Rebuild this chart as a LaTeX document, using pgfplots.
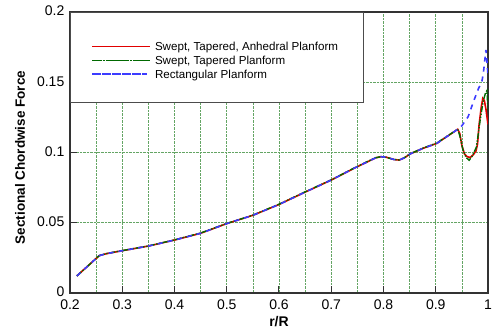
\documentclass[border=0pt]{standalone}
\usepackage{fontspec}
\setmainfont{Liberation Sans}
\usepackage{pgfplots}
\pgfplotsset{compat=1.18}
\definecolor{gridgreen}{RGB}{100,165,100}
\definecolor{myred}{RGB}{225,0,0}
\definecolor{mygreen}{RGB}{0,105,0}
\definecolor{myblue}{RGB}{60,60,255}
\begin{document}
\begin{tikzpicture}
\useasboundingbox (-70bp,-39bp) rectangle (424bp,293bp);
\begin{axis}[
  at={(0,0)}, anchor=south west,
  scale only axis, width=418bp, height=281bp,
  xmin=0.2, xmax=1, ymin=0, ymax=0.2,
  scaled ticks=false,
  xtick={0.2,0.3,0.4,0.5,0.6,0.7,0.8,0.9,1},
  xticklabels={0.2,0.3,0.4,0.5,0.6,0.7,0.8,0.9,1},
  minor xtick={0.25,0.35,0.45,0.55,0.65,0.75,0.85,0.95},
  ytick={0,0.05,0.1,0.15,0.2},
  yticklabels={0,0.05,0.1,0.15,0.2},
  grid=both,
  major grid style={gridgreen, densely dotted, line width=0.6bp},
  minor grid style={gridgreen, densely dotted, line width=0.6bp},
  minor tick length=0pt,
  tick align=inside, major tick length=7bp,
  xtick pos=bottom, ytick pos=left,
  tick style={black!80, line width=1bp},
  axis line style={black!80, line width=1.3bp},
  ticklabel style={font=\fontsize{14bp}{16bp}\selectfont},
  xticklabel style={anchor=base, inner sep=0pt, yshift=-16bp},
  yticklabel style={anchor=east, inner sep=0pt, xshift=-5.5bp, yshift=1bp},
  xlabel={r/R},
  ylabel={Sectional Chordwise Force},
  xlabel style={font=\bfseries\fontsize{14bp}{16bp}\selectfont, at={(axis description cs:0.5,0)}, anchor=base, yshift=-33bp},
  ylabel style={font=\bfseries\fontsize{13.5bp}{16bp}\selectfont, at={(axis description cs:-0.1077,0.482)}, anchor=base},
  legend cell align=left,
  legend style={at={(0,1)}, anchor=north west, draw=black!70, line width=0.8bp, fill=white,
    inner xsep=21bp, inner ysep=24.4bp,
    font=\fontsize{11.6bp}{13bp}\selectfont,
    nodes={inner xsep=4bp, inner ysep=0bp, text height=13.75bp, text depth=0bp}},
  legend image code/.code={\path (0bp,-2.8bp) -- (58bp,-2.8bp); \draw[#1] (4bp,-2.8bp) -- (54bp,-2.8bp);},
]
\addplot[myred, line width=1.6bp] coordinates {
(0.213,0.0121) (0.256,0.0266) (0.27,0.0280) (0.30,0.0301) (0.35,0.0334)
(0.40,0.0377) (0.45,0.0425) (0.50,0.0494) (0.55,0.0553) (0.60,0.0630)
(0.65,0.0718) (0.70,0.0804) (0.745,0.0890) (0.77,0.0935) (0.785,0.0962)
(0.795,0.0970) (0.806,0.0966) (0.82,0.0950) (0.830,0.0946) (0.84,0.0962)
(0.851,0.0990) (0.876,0.1030) (0.902,0.1065) (0.92,0.1110) (0.942,0.1165)
(0.946,0.1135) (0.950,0.1050) (0.955,0.0990) (0.960,0.0970) (0.966,0.0965)
(0.972,0.0985) (0.977,0.1010) (0.980,0.1060) (0.983,0.1200) (0.987,0.1320)
(0.990,0.1385) (0.993,0.1370) (0.996,0.1310) (1.000,0.1200)
};
\addlegendentry{Swept, Tapered, Anhedral Planform}
\addplot[mygreen, line width=1.4bp, dash pattern=on 6bp off 1.5bp on 1.5bp off 1.5bp on 1.5bp off 1.5bp] coordinates {
(0.213,0.0121) (0.256,0.0266) (0.27,0.0281) (0.30,0.0302) (0.35,0.0335)
(0.40,0.0378) (0.45,0.0427) (0.50,0.0495) (0.55,0.0554) (0.60,0.0632)
(0.65,0.0720) (0.70,0.0805) (0.745,0.0892) (0.77,0.0937) (0.785,0.0963)
(0.795,0.0970) (0.806,0.0965) (0.82,0.0950) (0.830,0.0947) (0.84,0.0963)
(0.851,0.0991) (0.876,0.1032) (0.902,0.1067) (0.92,0.1112) (0.942,0.1165)
(0.946,0.1120) (0.952,0.1020) (0.958,0.0965) (0.964,0.0945) (0.970,0.0975)
(0.978,0.1040) (0.982,0.1150) (0.985,0.1230) (0.991,0.1370) (0.995,0.1420)
(0.998,0.1440) (1.000,0.1300)
};
\addlegendentry{Swept, Tapered Planform}
\addplot[myblue, line width=1.6bp, dash pattern=on 5bp off 5bp] coordinates {
(0.213,0.0121) (0.256,0.0266) (0.27,0.0280) (0.30,0.0301) (0.35,0.0334)
(0.40,0.0377) (0.45,0.0425) (0.50,0.0494) (0.55,0.0553) (0.60,0.0630)
(0.65,0.0718) (0.70,0.0804) (0.745,0.0890) (0.77,0.0935) (0.785,0.0962)
(0.795,0.0970) (0.806,0.0966) (0.82,0.0950) (0.830,0.0946) (0.84,0.0962)
(0.851,0.0990) (0.876,0.1030) (0.902,0.1065) (0.92,0.1110) (0.942,0.1165)
(0.950,0.1190) (0.962,0.1255) (0.972,0.1360) (0.982,0.1457) (0.988,0.1500)
(0.991,0.1560) (0.994,0.1660) (0.996,0.1730) (0.998,0.1650) (1.000,0.1550)
};
\addlegendentry{Rectangular Planform}
\end{axis}
\end{tikzpicture}
\end{document}
